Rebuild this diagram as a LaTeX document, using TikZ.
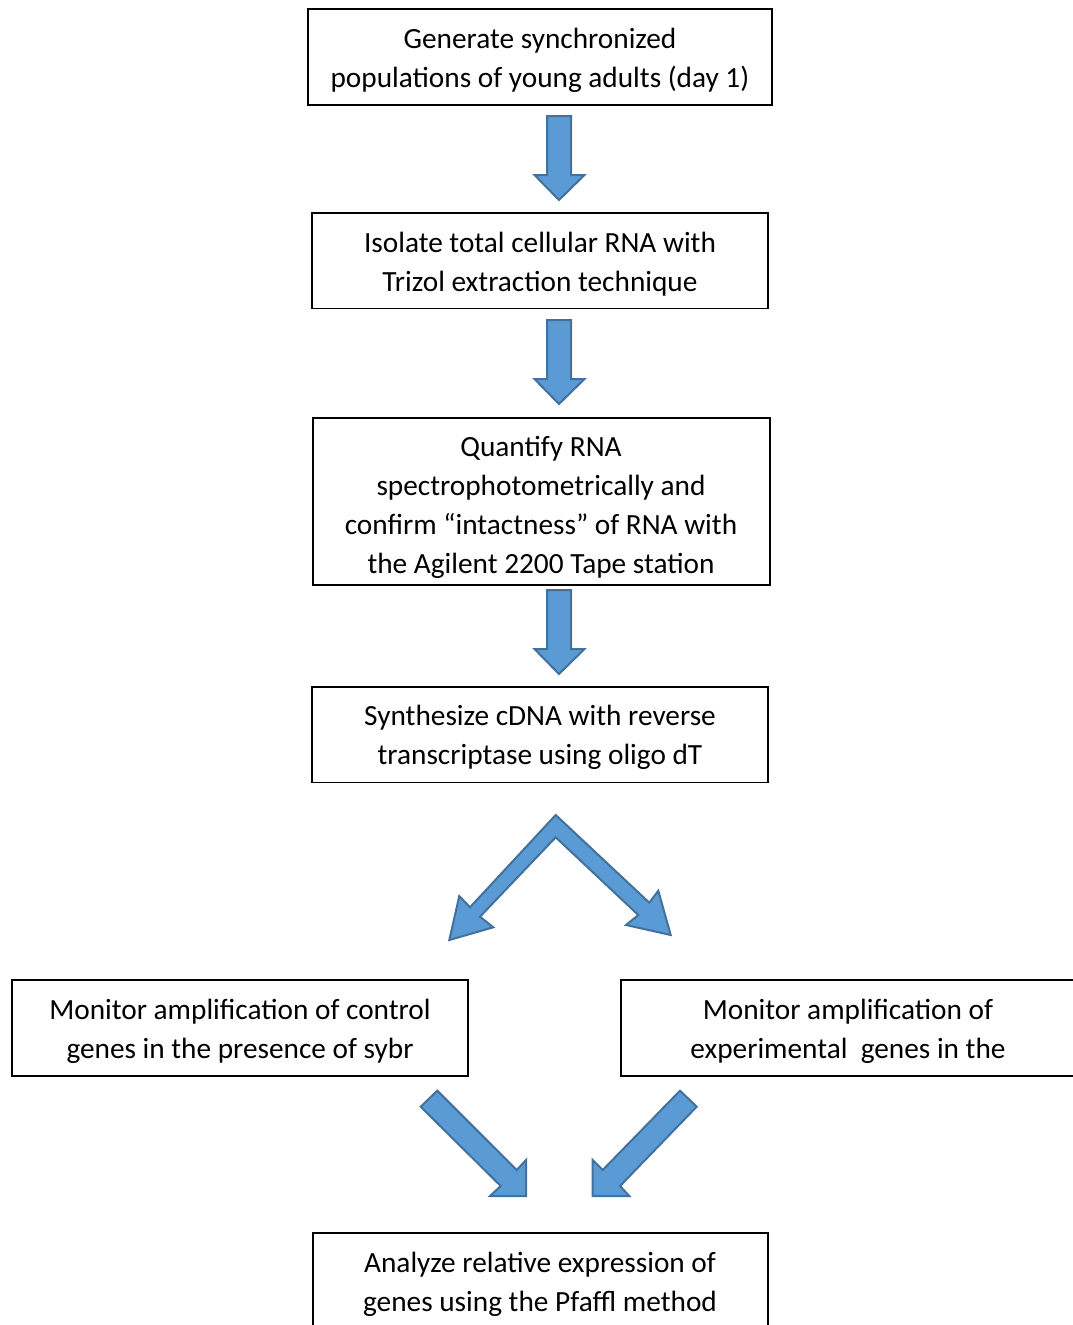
\documentclass[tikz,border=0pt]{standalone}
\usepackage{fontspec}
\setmainfont{Carlito}
\begin{document}
\begin{tikzpicture}[x=1pt,y=-1pt,
  stepbox/.style={draw=black,line width=1.8pt,inner sep=0pt},
  steptext/.style={align=center,inner sep=0pt,font=\fontsize{29.3}{38.8}\selectfont},
  blockarrow/.style={fill=arrowfill,draw=arrowline,line width=2pt,line join=miter}]
\definecolor{arrowfill}{HTML}{5B9BD5}
\definecolor{arrowline}{HTML}{41719C}
\useasboundingbox (0,0) rectangle (1072,1325);
\fill[white] (0,0) rectangle (1072,1325);

% boxes
\draw[stepbox] (308,9) rectangle (772,105);
\node[steptext] (t1) at (540,60) {Generate synchronized\\populations of young adults (day 1)};

\draw[stepbox] (312,213) rectangle (768,308.5);
\node[steptext] (t2) at (540,264) {Isolate total cellular RNA with\\Trizol extraction technique};

\draw[stepbox] (313,418) rectangle (770,585);
\begin{scope}
\clip (313,418) rectangle (770,584);
\node[steptext] (t3) at (541,507.5) {Quantify RNA\\spectrophotometrically and\\confirm “intactness” of RNA with\\the Agilent 2200 Tape station};
\end{scope}

\draw[stepbox] (312,687) rectangle (768,782.5);
\node[steptext] (t4) at (540,737.5) {Synthesize cDNA with reverse\\transcriptase using oligo dT};

\draw[stepbox] (12,980) rectangle (468,1076);
\node[steptext] (t5) at (240,1031) {Monitor amplification of control\\genes in the presence of sybr};

\draw[stepbox] (621,980) rectangle (1080,1076);
\node[steptext] (t6) at (848,1031) {Monitor amplification of\\experimental\ \ genes in the};

\draw[stepbox] (313,1340) -- (313,1233) -- (768,1233) -- (768,1340);
\node[steptext] (t7) at (540,1284) {Analyze relative expression of\\genes using the Pfaffl method};

% down arrows
\foreach \yy in {0,204,474} {
  \draw[blockarrow] (547,116+\yy) -- (571,116+\yy) -- (571,175+\yy) -- (584.5,175+\yy)
     -- (559,200+\yy) -- (534.5,175+\yy) -- (547,175+\yy) -- cycle;
}

% split arrow
\draw[blockarrow] (555.7,815) -- (649.3,902.7) -- (658.3,890.7) -- (670.7,935)
  -- (626,925) -- (638.3,915) -- (555.7,837.3) -- (480,916.7) -- (493.3,927.3)
  -- (449.3,940) -- (459.3,896) -- (470,907.3) -- cycle;

% converging arrows
\draw[blockarrow] (420.7,1106.7) -- (437.3,1090.7) -- (516.7,1170) -- (526,1160)
  -- (526,1196) -- (490,1196) -- (500.7,1186) -- cycle;
\draw[blockarrow] (696.7,1106.7) -- (680,1090.7) -- (602.7,1170) -- (592.7,1160)
  -- (592.7,1196) -- (629.3,1196) -- (620,1186) -- cycle;
\end{tikzpicture}
\end{document}
